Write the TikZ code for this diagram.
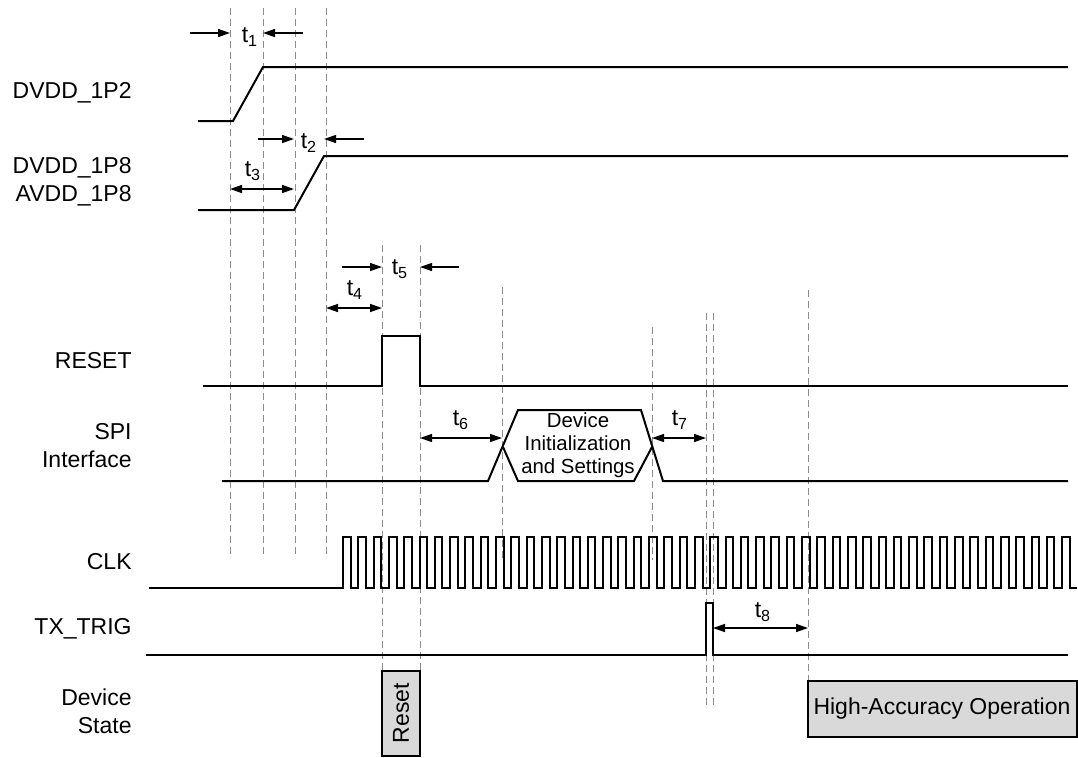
\documentclass[tikz,border=0pt]{standalone}
\usepackage{fontspec}
\setmainfont{Liberation Sans}
\usetikzlibrary{arrows.meta}

\begin{document}
\begin{tikzpicture}[x=0.5pt,y=-0.5pt,
  sig/.style={line width=1pt,line join=miter},
  guide/.style={black!45,line width=0.5pt,dash pattern=on 3.5pt off 2pt},
  dim/.style={line width=0.7pt,-{Triangle[length=6pt,width=4pt]}},
  dimboth/.style={line width=0.7pt,{Triangle[length=6pt,width=4pt]}-{Triangle[length=6pt,width=4pt]}},
  lbl/.style={anchor=east,align=right,inner sep=0pt,font=\fontsize{11.5}{14}\selectfont},
  tlbl/.style={inner sep=0pt,font=\fontsize{11.5}{14}\selectfont},
  statebox/.style={draw,line width=0.8pt,fill=black!15}]
\useasboundingbox (0,0) rectangle (1078,757);

\foreach \x in {230,263,295,326} \draw[guide] (\x,8) -- (\x,558);
\foreach \x in {382,420} \draw[guide] (\x,245) -- (\x,671);
\draw[guide] (502,287) -- (502,560);
\draw[guide] (652,327) -- (652,560);
\foreach \x in {706,713} \draw[guide] (\x,313) -- (\x,705);
\draw[guide] (808,290) -- (808,681);

\node[lbl] (dvdd12) at (132,93) {DVDD\_1P2};
\node[lbl] (dvdd18) at (132,182) {DVDD\_1P8\\AVDD\_1P8};
\node[lbl] (reset) at (132,361) {RESET};
\node[lbl] (spi) at (132,446) {SPI\\Interface};
\node[lbl] (clk) at (132,562) {CLK};
\node[lbl] (txtrig) at (132,629) {TX\_TRIG};
\node[lbl] (state) at (132,711) {Device\\State};

\draw[sig] (198,121) -- (233,121) -- (263,67) -- (1068,67);
\draw[sig] (198,210) -- (294,210) -- (324,156) -- (1068,156);
\draw[sig] (203,386) -- (382,386) -- (382,336) -- (420,336) -- (420,386) -- (1068,386);
\draw[sig] (222,481) -- (488,481) -- (518,410) -- (641,410) -- (663,481) -- (1068,481);
\draw[sig] (503,447) -- (518,481) -- (634,481) -- (652,447);
\draw[sig] (149,588) -- (343,588)
  foreach \i in {0,...,47} { -- ++(0,-51) -- ++(7.65,0) -- ++(0,51) -- ++(7.65,0) };
\draw[sig] (146,655) -- (706,655) -- (706,603) -- (713,603) -- (713,655) -- (1068,655);

\node[tlbl,align=center,font=\fontsize{10.2}{11.5}\selectfont] (init) at (578,445)
  {Device\\Initialization\\and Settings};

\draw[dim] (190,33) -- (230,33);
\draw[dim] (303,33) -- (263,33);
\node[tlbl] (t1) at (250,37) {t\textsubscript{1}};
\draw[dim] (258,139) -- (294,139);
\draw[dim] (364,139) -- (324,139);
\node[tlbl] (t2) at (309,143) {t\textsubscript{2}};
\draw[dimboth] (230,189) -- (294,189);
\node[tlbl] (t3) at (253,171) {t\textsubscript{3}};
\draw[dimboth] (326,308) -- (382,308);
\node[tlbl] (t4) at (355,290) {t\textsubscript{4}};
\draw[dim] (342,267) -- (382,267);
\draw[dim] (459,267) -- (420,267);
\node[tlbl] (t5) at (400,269) {t\textsubscript{5}};
\draw[dimboth] (420,438) -- (502,438);
\node[tlbl] (t6) at (461,420) {t\textsubscript{6}};
\draw[dimboth] (652,438) -- (706,438);
\node[tlbl] (t7) at (680,420) {t\textsubscript{7}};
\draw[dimboth] (713,628) -- (808,628);
\node[tlbl] (t8) at (763,612) {t\textsubscript{8}};

\draw[statebox] (382,671) rectangle (420,756);
\node[tlbl,rotate=90] (rst) at (401,713) {Reset};
\draw[statebox] (808,681) rectangle (1077,737);
\node[tlbl] (hao) at (942,709) {High-Accuracy Operation};
\end{tikzpicture}
\end{document}
